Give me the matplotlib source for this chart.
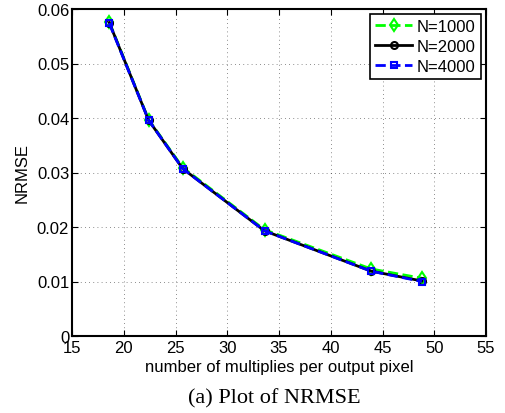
import numpy as np
import matplotlib.pyplot as plt

plt.rcParams['font.family'] = ['Liberation Sans', 'DejaVu Sans']

mults = [18.6, 22.4, 25.7, 33.6, 43.9, 48.8]
nrmse_1000 = [0.0576, 0.0397, 0.0309, 0.0195, 0.0123, 0.0106]
nrmse_2000 = [0.0575, 0.0396, 0.0307, 0.0193, 0.0119, 0.0101]
nrmse_4000 = [0.0574, 0.0396, 0.0307, 0.0193, 0.0119, 0.0100]

fig = plt.figure(figsize=(5.05, 4.14), dpi=100)
ax = fig.add_axes([72/505, 1 - 337/414, 414/505, 327/414])

ax.plot(mults, nrmse_1000, '--', color=(0, 1, 0), lw=2, marker='d', ms=6,
        mfc='none', mew=1.5, label='N=1000')
ax.plot(mults, nrmse_2000, '-', color='k', lw=2, marker='o', ms=5,
        mfc='none', mew=1.5, label='N=2000')
ax.plot(mults, nrmse_4000, '--', color=(0, 0, 1), lw=2, marker='s', ms=5,
        mfc='none', mew=1.5, label='N=4000')

ax.set_xlim(15, 55)
ax.set_ylim(0, 0.06)
ax.set_xticks(np.arange(15, 56, 5))
ax.set_yticks(np.arange(0, 0.061, 0.01))
ax.set_yticklabels(['0', '0.01', '0.02', '0.03', '0.04', '0.05', '0.06'])
ax.tick_params(direction='in', labelsize=12, length=4, top=True, right=True)
ax.tick_params(axis='x', pad=3)
ax.tick_params(axis='y', pad=2)
ax.grid(True, linestyle=(0, (1, 4)), color='k', lw=0.6, alpha=0.6)
for s in ax.spines.values():
    s.set_linewidth(1.5)

ax.set_xlabel('number of multiplies per output pixel', fontsize=12, labelpad=3)
ax.set_ylabel('NRMSE', fontsize=12, labelpad=5)

leg = ax.legend(loc='upper right', fontsize=12, fancybox=False, framealpha=1,
                edgecolor='k', borderaxespad=0.3, handlelength=2.2,
                handletextpad=0.3, labelspacing=0.3, borderpad=0.3)
leg.get_frame().set_linewidth(1.2)

fig.text(274/505, 1 - 399/414, '(a) Plot of NRMSE', ha='center', va='center',
         fontsize=16, family=['Liberation Serif', 'DejaVu Serif'])

fig.savefig('out.png', dpi=100)
